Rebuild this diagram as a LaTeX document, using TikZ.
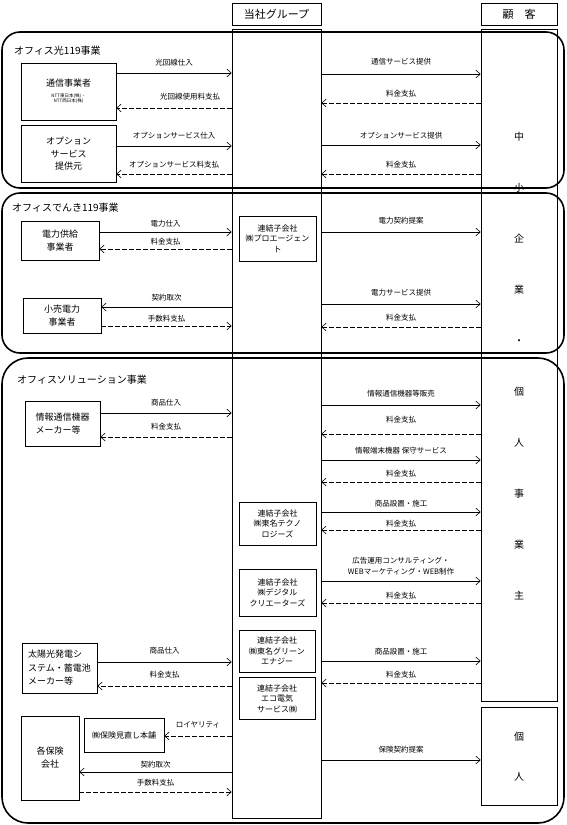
\documentclass[tikz,border=0pt]{standalone}
\usepackage{fontspec}
\setmainfont{Noto Sans CJK JP}
\usetikzlibrary{positioning}
\usetikzlibrary{arrows.meta}

\newcommand{\ntt}{\fontsize{4.5}{5.5}\selectfont}

\begin{document}
\begin{tikzpicture}[x=1pt, y=-1pt,
		box/.style={draw, line width=0.6pt, align=center, inner sep=1pt, font=\fontsize{9}{12.5}\selectfont},
		sub/.style={box, font=\fontsize{8}{10.5}\selectfont},
		col/.style={draw, line width=0.6pt, inner sep=0pt},
		head/.style={box, font=\fontsize{11}{13}\selectfont, minimum height=22pt},
		sect/.style={line width=1.6pt, rounded corners=18pt},
		title/.style={anchor=west, inner sep=0pt, font=\fontsize{10}{12}\selectfont},
		lbl/.style={font=\fontsize{7.5}{11}\selectfont, inner sep=1pt, align=center, above=6pt},
		flow/.style={line width=0.6pt, -{Straight Barb[length=4.5pt, width=8pt]}},
		pay/.style={flow, dash pattern=on 4.5pt off 2.5pt}]
	\useasboundingbox (0,0) rectangle (566,825);

	% Columns
	\node[head, minimum width=89pt] (hgrp) at (276.5,14) {当社グループ};
	\node[head, minimum width=76pt] (hcust) at (519,14) {顧\hspace{1em}客};
	\node[col, below=4pt of hgrp, minimum width=89pt, minimum height=789pt] (grp) {};
	\node[col, below=4pt of hcust, minimum width=76pt, minimum height=672pt, align=center,
		font=\fontsize{10}{51}\selectfont] (cust1) {中\\小\\企\\業\\・\\個\\人\\事\\業\\主};
	\node[col, below=5pt of cust1, minimum width=76pt, minimum height=98pt, align=center,
		font=\fontsize{10}{40}\selectfont] (cust2) {個\\人};

	% Office hikari 119
	\node[title] (t1) at (14,51) {オフィス光119事業};
	\node[box, minimum width=95pt, minimum height=57pt] (tsushin) at (68.5,91.5)
		{通信事業者\\[1pt]{\ntt\begin{tabular}{@{}c@{}}NTT東日本(株)・\\NTT西日本(株)\end{tabular}}};
	\node[box, below=5pt of tsushin, minimum width=95pt, minimum height=57pt] (option) {オプション\\サービス\\提供元};
	\draw[flow] (tsushin.east |- 0,73) -- node[lbl] {光回線仕入} (grp.west |- 0,73);
	\draw[pay] (grp.west |- 0,108) -- node[lbl, above=7pt, xshift=16pt] {光回線使用料支払} (tsushin.east |- 0,108);
	\draw[flow] (option.east |- 0,146) -- node[lbl] {オプションサービス仕入} (grp.west |- 0,146);
	\draw[pay] (grp.west |- 0,174) -- node[lbl, above=5pt] {オプションサービス料支払} (option.east |- 0,174);
	\draw[flow] (grp.east |- 0,74) -- node[lbl, above=8pt] {通信サービス提供} (cust1.west |- 0,74);
	\draw[pay] (cust1.west |- 0,103) -- node[lbl, above=5pt] {料金支払} (grp.east |- 0,103);
	\draw[flow] (grp.east |- 0,145) -- node[lbl, above=5pt] {オプションサービス提供} (cust1.west |- 0,145);
	\draw[pay] (cust1.west |- 0,174) -- node[lbl, above=5pt] {料金支払} (grp.east |- 0,174);

	% Office denki 119
	\node[title] (t2) at (12,208) {オフィスでんき119事業};
	\node[box, minimum width=78pt, minimum height=39pt] (kyokyu) at (60,240.5) {電力供給\\事業者};
	\node[sub, minimum width=77pt, minimum height=45pt] (pro) at (277.5,238.5) {連結子会社\\㈱プロエージェン\\ト};
	\node[box, minimum width=78pt, minimum height=35pt] (kouri) at (62,315.5) {小売電力\\事業者};
	\draw[flow] (kyokyu.east |- 0,232) -- node[lbl, above=4pt] {電力仕入} (grp.west |- 0,232);
	\draw[pay] (grp.west |- 0,249) -- node[lbl, above=3pt] {料金支払} (kyokyu.east |- 0,249);
	\draw[flow] (grp.east |- 0,232) -- node[lbl, above=7pt] {電力契約提案} (cust1.west |- 0,232);
	\draw[flow] (grp.west |- 0,307) -- node[lbl, above=5pt] {契約取次} (kouri.east |- 0,307);
	\draw[pay] (kouri.east |- 0,326) -- node[lbl, above=3pt] {手数料支払} (grp.west |- 0,326);
	\draw[flow] (grp.east |- 0,304) -- node[lbl, above=7pt] {電力サービス提供} (cust1.west |- 0,304);
	\draw[pay] (cust1.west |- 0,327) -- node[lbl, above=5pt] {料金支払} (grp.east |- 0,327);

	% Office solution
	\node[title] (t3) at (17,380) {オフィスソリューション事業};
	\node[box, align=left, minimum width=75pt, minimum height=45pt] (joho) at (62.5,423.5) {情報通信機器\\メーカー等};
	\draw[flow] (joho.east |- 0,413) -- node[lbl] {商品仕入} (grp.west |- 0,413);
	\draw[pay] (grp.west |- 0,437) -- node[lbl] {料金支払} (joho.east |- 0,437);
	\draw[flow] (grp.east |- 0,405) -- node[lbl, above=7pt] {情報通信機器等販売} (cust1.west |- 0,405);
	\draw[pay] (cust1.west |- 0,434) -- node[lbl, above=10pt] {料金支払} (grp.east |- 0,434);
	\draw[flow] (grp.east |- 0,460) -- node[lbl, above=5pt] {情報端末機器\ 保守サービス} (cust1.west |- 0,460);
	\draw[pay] (cust1.west |- 0,482) -- node[lbl, above=4pt] {料金支払} (grp.east |- 0,482);

	\node[sub, minimum width=77pt, minimum height=43pt] (techno) at (277.5,523.5) {連結子会社\\㈱東名テクノ\\ロジーズ};
	\draw[flow] (grp.east |- 0,512) -- node[lbl, above=4pt] {商品設置・施工} (cust1.west |- 0,512);
	\draw[pay] (cust1.west |- 0,530) -- node[lbl, above=2pt] {料金支払} (grp.east |- 0,530);

	\node[sub, minimum width=77pt, minimum height=47pt] (digital) at (277.5,592.5) {連結子会社\\㈱デジタル\\クリエーターズ};
	\draw[flow] (grp.east |- 0,581) -- node[lbl, above=5pt] {広告運用コンサルティング・\\WEBマーケティング・WEB制作} (cust1.west |- 0,581);
	\draw[pay] (cust1.west |- 0,603) -- node[lbl, above=3pt] {料金支払} (grp.east |- 0,603);

	\node[sub, minimum width=76pt, minimum height=42pt] (green) at (277,651) {連結子会社\\㈱東名グリーン\\エナジー};
	\node[sub, below=5pt of green, minimum width=76pt, minimum height=42pt] (eco) {連結子会社\\エコ電気\\サービス㈱};
	\node[box, align=left, minimum width=75pt, minimum height=50pt, font=\fontsize{9}{13.5}\selectfont] (taiyo) at (59.5,668)
		{太陽光発電シ\\ステム・蓄電池\\メーカー等};
	\draw[flow] (taiyo.east |- 0,662) -- node[lbl, above=7pt] {商品仕入} (grp.west |- 0,662);
	\draw[pay] (grp.west |- 0,686) -- node[lbl, above=7pt] {料金支払} (taiyo.east |- 0,686);
	\draw[flow] (grp.east |- 0,661) -- node[lbl, above=5pt] {商品設置・施工} (cust1.west |- 0,661);
	\draw[pay] (cust1.west |- 0,683) -- node[lbl, above=4pt] {料金支払} (grp.east |- 0,683);

	% Insurance
	\node[sub, minimum width=80pt, minimum height=34pt] (minaoshi) at (124,735) {㈱保険見直し本舗};
	\node[box, minimum width=58pt, minimum height=84pt, font=\fontsize{9}{13}\selectfont] (hoken) at (50,758) {各保険\\会社};
	\draw[pay] (grp.west |- 0,736) -- node[lbl, above=7pt] {ロイヤリティ} (minaoshi.east |- 0,736);
	\draw[flow] (grp.west |- 0,772) -- node[lbl, above=3pt] {契約取次} (hoken.east |- 0,772);
	\draw[pay] (hoken.east |- 0,792) -- node[lbl, above=5pt] {手数料支払} (grp.west |- 0,792);
	\draw[flow] (grp.east |- 0,760) -- node[lbl] {保険契約提案} (cust2.west |- 0,760);

	% Business frames
	\draw[sect] (2,32) rectangle (564,188);
	\draw[sect] (2,193) rectangle (564,353);
	\draw[sect, rounded corners=26pt] (2,358) rectangle (564,823);
\end{tikzpicture}
\end{document}
